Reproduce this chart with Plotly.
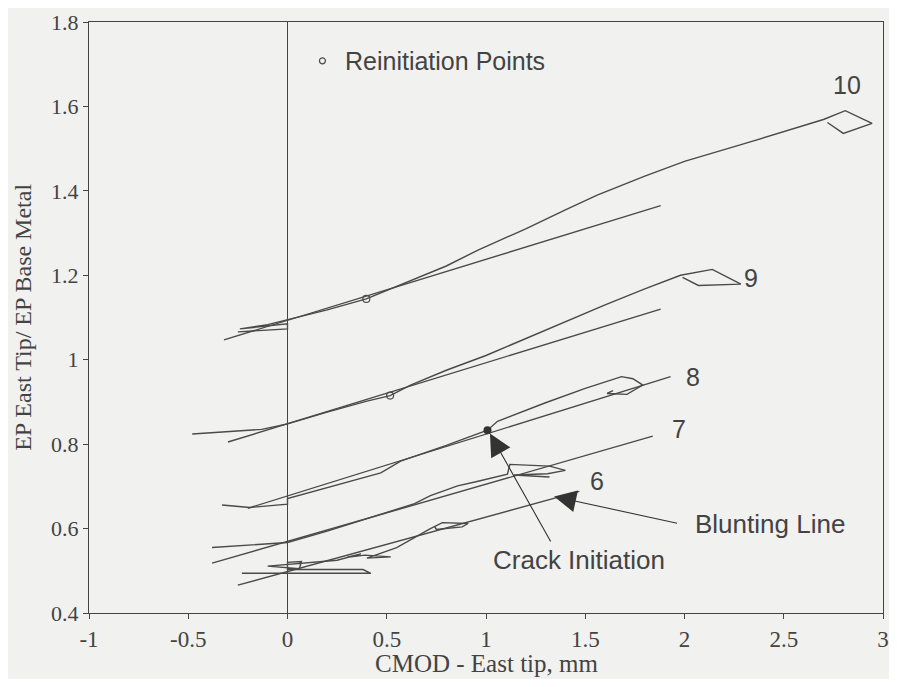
import plotly.graph_objects as go

# ---------------- data ----------------
# Specimen 10
d10_x = [-0.25, 0.0, 0.0, -0.24, -0.1, 0.0, 0.2, 0.397, 0.6, 0.8, 0.957, 1.2, 1.4, 1.56, 1.8, 2.0, 2.31, 2.5, 2.70, 2.81, 2.945, 2.80, 2.72]
d10_y = [1.066, 1.073, 1.085, 1.073, 1.083, 1.095, 1.118, 1.144, 1.183, 1.222, 1.259, 1.31, 1.355, 1.39, 1.435, 1.47, 1.513, 1.54, 1.569, 1.59, 1.56, 1.536, 1.562]
b10_x = [-0.32, 1.88]
b10_y = [1.047, 1.365]

# Specimen 9
d9_x = [-0.48, -0.13, 0.0, 0.2, 0.4, 0.517, 0.62, 0.8, 1.0, 1.158, 1.4, 1.6, 1.8, 1.98, 2.14, 2.284, 2.07, 1.99]
d9_y = [0.824, 0.835, 0.848, 0.876, 0.902, 0.915, 0.94, 0.975, 1.01, 1.042, 1.09, 1.13, 1.168, 1.2, 1.214, 1.179, 1.176, 1.195]
b9_x = [-0.30, 1.88]
b9_y = [0.805, 1.12]

# Specimen 8
d8_x = [-0.33, -0.19, 0.0, 0.0, 0.47, 0.57, 0.8, 1.0075, 1.058, 1.3, 1.5, 1.683, 1.74, 1.79, 1.71, 1.61, 1.64]
d8_y = [0.656, 0.650, 0.658, 0.671, 0.732, 0.760, 0.797, 0.833, 0.854, 0.898, 0.932, 0.960, 0.955, 0.940, 0.918, 0.920, 0.927]
b8_x = [-0.20, 1.93]
b8_y = [0.648, 0.960]

# Specimen 7
d7_x = [-0.38, 0.0, 0.2, 0.4, 0.64, 0.72, 0.857, 0.96, 1.108, 1.12, 1.32, 1.40, 1.31, 1.14, 1.32]
d7_y = [0.555, 0.567, 0.594, 0.624, 0.659, 0.678, 0.701, 0.712, 0.729, 0.752, 0.748, 0.738, 0.730, 0.727, 0.722]
b7_x = [-0.38, 1.84]
b7_y = [0.518, 0.819]

# Specimen 6
d6_x = [-0.23, 0.42, 0.38, 0.0, 0.0, 0.07, 0.06, -0.10, 0.25, 0.37, 0.30, 0.39, 0.52, 0.40, 0.55, 0.72, 0.78, 0.91, 0.88, 0.75, 0.74]
d6_y = [0.494, 0.494, 0.503, 0.503, 0.520, 0.522, 0.505, 0.511, 0.525, 0.540, 0.532, 0.537, 0.533, 0.530, 0.555, 0.600, 0.614, 0.612, 0.604, 0.598, 0.606]
b6_x = [-0.25, 1.47]
b6_y = [0.466, 0.688]

# Reinitiation points (open circles) and crack initiation (filled)
reinit_x = [0.397, 0.517]
reinit_y = [1.144, 0.915]
crack_x = [1.0075]
crack_y = [0.833]

# Curve labels
label_text = ["10", "9", "8", "7", "6"]
label_x = [2.82, 2.334, 2.044, 1.974, 1.558]
label_y = [1.65, 1.193, 0.958, 0.835, 0.713]

x_ticks = [-1, -0.5, 0, 0.5, 1, 1.5, 2, 2.5, 3]
x_ticklabels = ["-1", "-0.5", "0", "0.5", "1", "1.5", "2", "2.5", "3"]
y_ticks = [0.4, 0.6, 0.8, 1.0, 1.2, 1.4, 1.6, 1.8]
y_ticklabels = ["0.4", "0.6", "0.8", "1", "1.2", "1.4", "1.6", "1.8"]

# ---------------- styling ----------------
BG = "#f1f1ef"
INK = "#434343"
LINE = "#4a4a4a"
SANS = "Liberation Sans, Arial, sans-serif"
SERIF = "Liberation Serif, Times New Roman, serif"

fig = go.Figure()

curves = [(d10_x, d10_y), (b10_x, b10_y), (d9_x, d9_y), (b9_x, b9_y),
          (d8_x, d8_y), (b8_x, b8_y), (d7_x, d7_y), (b7_x, b7_y),
          (d6_x, d6_y), (b6_x, b6_y)]
for cx, cy in curves:
    fig.add_trace(go.Scatter(x=cx, y=cy, mode="lines",
                             line=dict(color=LINE, width=1.4),
                             showlegend=False, hoverinfo="skip"))

fig.add_trace(go.Scatter(x=reinit_x, y=reinit_y, mode="markers",
                         marker=dict(symbol="circle-open", size=7, color=LINE,
                                     line=dict(width=1.2, color=LINE)),
                         showlegend=False, hoverinfo="skip"))
fig.add_trace(go.Scatter(x=crack_x, y=crack_y, mode="markers",
                         marker=dict(symbol="circle", size=8, color="#333"),
                         showlegend=False, hoverinfo="skip"))

# legend-like marker for "Reinitiation Points"
fig.add_trace(go.Scatter(x=[0.176], y=[1.708], mode="markers",
                         marker=dict(symbol="circle-open", size=6, color=LINE,
                                     line=dict(width=1.2, color=LINE)),
                         showlegend=False, hoverinfo="skip"))

annotations = []
for t, lx, ly in zip(label_text, label_x, label_y):
    annotations.append(dict(x=lx, y=ly, text=t, showarrow=False,
                            font=dict(family=SANS, size=25, color=INK)))

annotations.append(dict(x=0.282, y=1.708, text="Reinitiation Points", showarrow=False,
                        xanchor="left", font=dict(family=SANS, size=25, color=INK)))
annotations.append(dict(x=1.468, y=0.525, text="Crack Initiation", showarrow=False,
                        font=dict(family=SANS, size=26, color=INK)))
annotations.append(dict(x=2.43, y=0.612, text="Blunting Line", showarrow=False,
                        font=dict(family=SANS, size=26, color=INK)))
# arrows
annotations.append(dict(x=1.02, y=0.825, ax=1.33, ay=0.566, xref="x", yref="y",
                        axref="x", ayref="y", text="", showarrow=True,
                        arrowhead=2, arrowsize=4, arrowwidth=1.1, arrowcolor="#333"))
annotations.append(dict(x=1.343, y=0.676, ax=1.97, ay=0.612, xref="x", yref="y",
                        axref="x", ayref="y", text="", showarrow=True,
                        arrowhead=2, arrowsize=4, arrowwidth=1.1, arrowcolor="#333"))
# axis titles
annotations.append(dict(x=0.5, y=-0.086, xref="paper", yref="paper", xanchor="center",
                        yanchor="middle", text="CMOD - East tip, mm", showarrow=False,
                        font=dict(family=SERIF, size=25, color=INK)))
annotations.append(dict(x=-0.084, y=0.5, xref="paper", yref="paper", xanchor="center",
                        yanchor="middle", text="EP East Tip/ EP Base Metal", showarrow=False,
                        textangle=-90, font=dict(family=SERIF, size=24, color=INK)))

# the page body adds an 8 px margin on every side, so the figure is sized to fit inside it
fig.update_layout(
    width=881, height=671,
    margin=dict(l=81, r=6, t=14, b=66),
    paper_bgcolor=BG, plot_bgcolor=BG,
    annotations=annotations,
    showlegend=False,
)
fig.update_xaxes(range=[-1, 3], tickvals=x_ticks, ticktext=x_ticklabels,
                 automargin=False, ticklabeloverflow="allow",
                 showline=True, mirror=True, linecolor=INK, linewidth=1.3,
                 ticks="outside", ticklen=5, tickcolor=INK, showgrid=False,
                 zeroline=True, zerolinecolor=INK, zerolinewidth=1.2,
                 tickfont=dict(family=SERIF, size=23, color=INK))
fig.update_yaxes(range=[0.4, 1.8], tickvals=y_ticks, ticktext=y_ticklabels,
                 automargin=False, ticklabeloverflow="allow",
                 showline=True, mirror=True, linecolor=INK, linewidth=1.3,
                 ticks="outside", ticklen=5, tickcolor=INK, showgrid=False,
                 zeroline=False,
                 tickfont=dict(family=SERIF, size=22, color=INK))

fig.write_html("out.html")
